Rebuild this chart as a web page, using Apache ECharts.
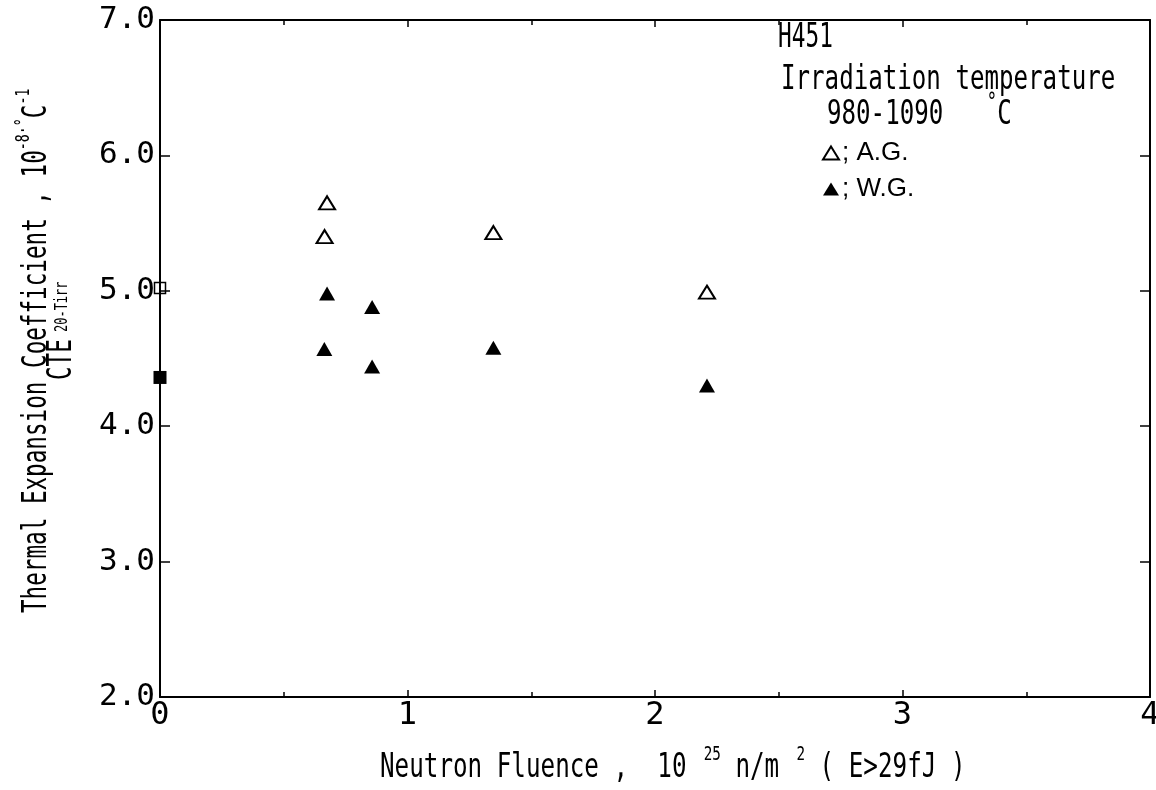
<!DOCTYPE html>
<html>
<head>
<meta charset="utf-8">
<script src="https://cdn.jsdelivr.net/npm/echarts@6/dist/echarts.min.js"></script>
<style>
  html, body { margin: 0; padding: 0; background: #fff; overflow: hidden; }
  #chart { width: 1156px; height: 790px; }
</style>
</head>
<body>
<div id="chart"></div>
<script>
// H451 graphite: CTE (20 - Tirr) versus neutron fluence
const xTicks = [0, 1, 2, 3, 4];
const xTickLabels = ['0', '1', '2', '3', '4'];
const yTicks = [2, 3, 4, 5, 6, 7];
const yTickLabels = ['2.0', '3.0', '4.0', '5.0', '6.0', '7.0'];

// A.G. (against grain), irradiated
const agFluence = [0.675, 0.665, 1.347, 2.21];
const agCte = [5.65, 5.40, 5.43, 4.99];

// W.G. (with grain), irradiated
const wgFluence = [0.675, 0.664, 0.857, 0.857, 1.347, 2.21];
const wgCte = [4.98, 4.57, 4.88, 4.44, 4.58, 4.30];

// unirradiated reference values
const agUnirrFluence = [0];
const agUnirrCte = [5.02];
const wgUnirrFluence = [0];
const wgUnirrCte = [4.36];

const pairs = (xs, ys) => xs.map((x, i) => [x, ys[i]]);

const MONO = '"DejaVu Sans Mono", monospace';
const black = '#000';

const axisLine = { show: true, onZero: false, lineStyle: { color: black, width: 2 } };

const chart = echarts.init(document.getElementById('chart'), null, { renderer: 'canvas' });

const xCommon = {
  type: 'value',
  min: xTicks[0],
  max: xTicks[xTicks.length - 1],
  interval: 1,
  axisLine: axisLine,
  splitLine: { show: false },
  axisTick: { show: true, inside: true, length: 7, lineStyle: { color: black, width: 1.5 } },
  minorTick: { show: true, splitNumber: 2, length: 5, lineStyle: { color: black, width: 1.5 } }
};

const yCommon = {
  type: 'value',
  min: yTicks[0],
  max: yTicks[yTicks.length - 1],
  interval: 1,
  axisLine: axisLine,
  splitLine: { show: false },
  axisTick: { show: true, inside: true, length: 10, lineStyle: { color: black, width: 1.5 } }
};

const option = {
  backgroundColor: '#fff',
  animation: false,
  grid: { left: 160, right: 6, top: 20, bottom: 93, containLabel: false, outerBoundsMode: 'none' },
  xAxis: [
    Object.assign({}, xCommon, {
      position: 'bottom',
      axisLabel: {
        show: true, margin: 3, color: black, fontFamily: MONO, fontSize: 32,
        formatter: v => xTickLabels[xTicks.indexOf(v)]
      }
    }),
    Object.assign({}, xCommon, { position: 'top', axisLabel: { show: false } })
  ],
  yAxis: [
    Object.assign({}, yCommon, {
      position: 'left',
      axisLabel: {
        show: true, margin: 5, color: black, fontFamily: MONO, fontSize: 31,
        formatter: v => yTickLabels[yTicks.indexOf(v)]
      }
    }),
    Object.assign({}, yCommon, { position: 'right', axisLabel: { show: false } })
  ],
  legend: {
    data: ['A.G.', 'W.G.'],
    orient: 'vertical',
    left: 822,
    top: 140,
    padding: 0,
    itemWidth: 16,
    itemHeight: 13,
    itemGap: 10,
    selectedMode: false,
    formatter: '; {name}',
    textStyle: { color: black, fontFamily: '"Liberation Sans", sans-serif', fontSize: 26, padding: [0, 0, 0, -2] }
  },
  series: [
    {
      name: 'A.G.', type: 'scatter', clip: false,
      symbol: 'triangle', symbolSize: [16, 13],
      itemStyle: { color: '#fff', borderColor: black, borderWidth: 2, opacity: 1 },
      data: pairs(agFluence, agCte), z: 3
    },
    {
      name: 'W.G.', type: 'scatter', clip: false,
      symbol: 'triangle', symbolSize: [16, 14],
      itemStyle: { color: black, borderColor: black, borderWidth: 0, opacity: 1 },
      data: pairs(wgFluence, wgCte), z: 3
    },
    {
      name: 'A.G. unirradiated', type: 'scatter', clip: false,
      symbol: 'rect', symbolSize: [11, 11],
      itemStyle: { color: 'rgba(0,0,0,0)', borderColor: black, borderWidth: 1.5, opacity: 1 },
      data: pairs(agUnirrFluence, agUnirrCte), z: 3
    },
    {
      name: 'W.G. unirradiated', type: 'scatter', clip: false,
      symbol: 'rect', symbolSize: [13, 13],
      itemStyle: { color: black, opacity: 1 },
      data: pairs(wgUnirrFluence, wgUnirrCte), z: 3
    }
  ],
  graphic: [
    // y-axis title, first line
    {
      type: 'text', x: 54, y: 613, rotation: Math.PI / 2, scaleX: 0.665,
      style: {
        text: '{m|Thermal Expansion Coefficient , 10}{s|-8}{d|·°}{m|C}{s|-1}',
        align: 'left', verticalAlign: 'bottom', fill: black,
        rich: {
          m: { fontFamily: MONO, fontSize: 34, lineHeight: 40, verticalAlign: 'bottom', fill: black },
          s: { fontFamily: MONO, fontSize: 20, lineHeight: 14, verticalAlign: 'top', fill: black },
          d: { fontFamily: MONO, fontSize: 20, lineHeight: 30, verticalAlign: 'top', fill: black }
        }
      }
    },
    // y-axis title, second line
    {
      type: 'text', x: 80, y: 380, rotation: Math.PI / 2, scaleX: 0.665,
      style: {
        text: '{m|CTE}{t| 20-Tirr}',
        align: 'left', verticalAlign: 'bottom', fill: black,
        rich: {
          m: { fontFamily: MONO, fontSize: 34, lineHeight: 36, fill: black },
          t: { fontFamily: MONO, fontSize: 18, lineHeight: 18, fill: black }
        }
      }
    },
    // x-axis title
    {
      type: 'text', x: 380, y: 785, scaleX: 0.713,
      style: {
        text: '{m|Neutron Fluence ,  10}{s|  25}{m| n/m}{s|  2}{m| ( E>29fJ )}',
        align: 'left', verticalAlign: 'bottom', fill: black,
        rich: {
          m: { fontFamily: MONO, fontSize: 34, lineHeight: 40, verticalAlign: 'bottom', fill: black },
          s: { fontFamily: MONO, fontSize: 20, lineHeight: 14, verticalAlign: 'top', fill: black }
        }
      }
    },
    // annotation block
    {
      type: 'text', x: 778, y: 38, scaleX: 0.67,
      style: { text: 'H451', fontFamily: MONO, fontSize: 34, fill: black, align: 'left', verticalAlign: 'middle' }
    },
    {
      type: 'text', x: 781, y: 80, scaleX: 0.71,
      style: { text: 'Irradiation temperature', fontFamily: MONO, fontSize: 34, fill: black, align: 'left', verticalAlign: 'middle' }
    },
    {
      type: 'text', x: 827, y: 132, scaleX: 0.71,
      style: {
        text: '{m|980-1090   }{s|°}{m|C}',
        align: 'left', verticalAlign: 'bottom', fill: black,
        rich: {
          m: { fontFamily: MONO, fontSize: 34, lineHeight: 40, verticalAlign: 'bottom', fill: black },
          s: { fontFamily: MONO, fontSize: 24, lineHeight: 20, verticalAlign: 'top', fill: black }
        }
      }
    }
  ]
};

chart.setOption(option);
</script>
</body>
</html>
